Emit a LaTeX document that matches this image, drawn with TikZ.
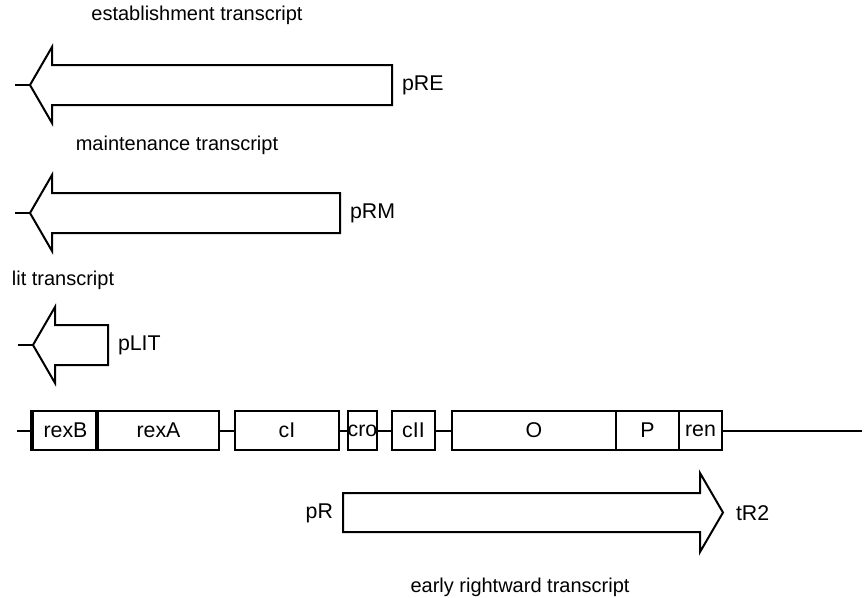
\documentclass[tikz,border=0pt]{standalone}
\usepackage{fontspec}
\setmainfont{Liberation Sans}
\begin{document}
\begin{tikzpicture}[x=0.75pt,y=-0.75pt, line width=1.5pt, line join=miter,
  gene/.style={draw, rectangle, inner sep=0pt, minimum height=39*0.75pt, font=\fontsize{16}{18}\selectfont},
  captxt/.style={font=\fontsize{15}{17}\selectfont, inner sep=0pt},
  labtxt/.style={font=\fontsize{16}{18}\selectfont, inner sep=0pt},
  thickedge/.style={line width=3pt}]
\useasboundingbox (0,0) rectangle (865,597);

% establishment transcript
\node[captxt] (capE) at (197,15) {establishment transcript};
\coordinate (reS) at (15,85);
\coordinate (reT) at (30,85);
\draw (reS) -- (reT);
\draw (reT) -- (52,47) -- (52,65) -- (392,65) -- (392,105) -- (52,105) -- (52,123) -- cycle;
\node[labtxt, anchor=west] (pRE) at (401,85) {pRE};

% maintenance transcript
\node[captxt] (capM) at (177,145) {maintenance transcript};
\coordinate (rmS) at (15,213);
\coordinate (rmT) at (30,213);
\draw (rmS) -- (rmT);
\draw (rmT) -- (52,175) -- (52,193) -- (340,193) -- (340,233) -- (52,233) -- (52,251) -- cycle;
\node[labtxt, anchor=west] (pRM) at (349,213) {pRM};

% lit transcript
\node[captxt] (capL) at (63,280) {lit transcript};
\coordinate (ltS) at (18,345);
\coordinate (ltT) at (33,345);
\draw (ltS) -- (ltT);
\draw (ltT) -- (55,307) -- (55,325) -- (108,325) -- (108,365) -- (55,365) -- (55,383) -- cycle;
\node[labtxt, anchor=west] (pLIT) at (117,345) {pLIT};

% gene map
\node[gene, minimum width=65*0.75pt] (rexB) at (65.5,430.5) {rexB};
\node[gene, minimum width=121*0.75pt] (rexA) at (158.5,430.5) {rexA};
\node[gene, minimum width=104*0.75pt] (cI) at (287,430.5) {cI};
\node[gene, minimum width=27*0.75pt] (cro) at (362.5,430.5) {cro};
\node[gene, minimum width=43*0.75pt] (cII) at (413.5,430.5) {cII};
\node[gene, minimum width=164*0.75pt] (O) at (534,430.5) {O};
\node[gene, minimum width=63*0.75pt] (P) at (647.5,430.5) {P};
\node[gene, minimum width=43*0.75pt] (ren) at (700.5,430.5) {ren};
\draw[thickedge] (rexB.north west) -- (rexB.south west);
\draw[thickedge] (rexA.north west) -- (rexA.south west);
\coordinate (dnaL) at (17,430.5);
\coordinate (dnaR) at (862,430.5);
\draw (dnaL) -- (rexB);
\draw (rexA) -- (cI);
\draw (cI) -- (cro);
\draw (cro) -- (cII);
\draw (cII) -- (O);
\draw (ren) -- (dnaR);

% early rightward transcript
\draw (343,493) -- (700,493) -- (700,473) -- (723,512.5) -- (700,552) -- (700,532) -- (343,532) -- cycle;
\node[labtxt, anchor=east] (pR) at (334,513) {pR};
\node[labtxt, anchor=west] (tR2) at (735,513) {tR2};
\node[captxt] (capR) at (520,587) {early rightward transcript};
\end{tikzpicture}
\end{document}
